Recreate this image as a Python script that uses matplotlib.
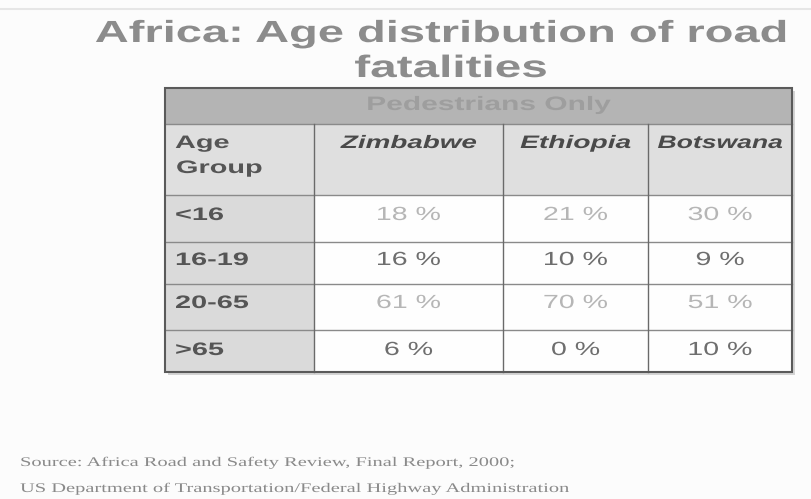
import matplotlib.pyplot as plt
from matplotlib.patches import Rectangle
from matplotlib.patheffects import AbstractPathEffect
from matplotlib.transforms import Affine2D

# Table content
countries = ["Zimbabwe", "Ethiopia", "Botswana"]
age_groups = ["<16", "16-19", "20-65", ">65"]
zimbabwe = [18, 16, 61, 6]
ethiopia = [21, 10, 70, 0]
botswana = [30, 9, 51, 10]
banner = "Pedestrians Only"
title_lines = ["Africa: Age distribution of road", "fatalities"]
source_lines = ["Source: Africa Road and Safety Review, Final Report, 2000;",
                "US Department of Transportation/Federal Highway Administration"]

# Layout in pixel units
W, H = 812, 499
col_edges = [165, 314, 503, 648, 792]
row_edges = [88, 124, 195, 242, 284, 330, 372]
value_baselines = [220, 265, 308, 355]
header_stretch = [1.54, 1.56, 1.47]


class Widen(AbstractPathEffect):
    """Stretch the glyphs of a text horizontally about their left edge or centre."""

    def __init__(self, sx, centre=False):
        super().__init__()
        self.sx = sx
        self.centre = centre

    def draw_path(self, renderer, gc, tpath, affine, rgbFace=None):
        ext = tpath.get_extents()
        cx = (ext.x0 + ext.x1) / 2 if self.centre else 0
        tr = Affine2D().translate(-cx, 0).scale(self.sx, 1).translate(cx, 0) + affine
        renderer.draw_path(gc, tpath, tr, rgbFace)


def wtext(x, y, s, size, sx=1.55, ha='left', **kw):
    return ax.text(x, y, s, ha=ha, va='baseline', fontsize=size,
                   path_effects=[Widen(sx, centre=(ha == 'center'))], **kw)


plt.rcParams['font.family'] = ['Liberation Sans', 'DejaVu Sans']

fig = plt.figure(figsize=(W / 100, H / 100), dpi=100)
ax = fig.add_axes([0, 0, 1, 1])
ax.set_xlim(0, W)
ax.set_ylim(H, 0)
ax.axis('off')
fig.patch.set_facecolor('#fcfcfc')

# faint rule at the top
ax.plot([0, W], [9, 9], color='#e6e6e6', lw=1.5)

# title
wtext(441, 42, title_lines[0], 22, 1.54, ha='center', fontweight='bold', color='#8c8c8c')
wtext(451, 77, title_lines[1], 22.3, 1.54, ha='center', fontweight='bold', color='#8c8c8c')

x0, x1 = col_edges[0], col_edges[-1]


def cell(xa, xb, ya, yb, fc):
    ax.add_patch(Rectangle((xa, ya), xb - xa, yb - ya, facecolor=fc,
                           edgecolor='none', zorder=1))


# shadow behind the table
ax.add_patch(Rectangle((x0 + 3, row_edges[0] + 3), x1 - x0, row_edges[-1] - row_edges[0],
                       facecolor='#d4d4d4', edgecolor='none', zorder=0))

# banner row
cell(x0, x1, row_edges[0], row_edges[1], '#b4b4b4')
wtext(489, 110, banner, 14, 1.54, ha='center', fontweight='bold', color='#9e9e9e', zorder=3)

# header row
cell(x0, x1, row_edges[1], row_edges[2], '#dfdfdf')
wtext(175, 148, "Age", 13, 1.6, fontweight='bold', color='#555555', zorder=3)
wtext(176, 173, "Group", 13, 1.6, fontweight='bold', color='#555555', zorder=3)
for i, name in enumerate(countries):
    cx = (col_edges[i + 1] + col_edges[i + 2]) / 2
    wtext(cx, 148, name, 13, header_stretch[i], ha='center', fontweight='bold',
          style='italic', color='#4a4a4a', zorder=3)

# data rows
series = [zimbabwe, ethiopia, botswana]
for r, grp in enumerate(age_groups):
    ya, yb = row_edges[r + 2], row_edges[r + 3]
    cell(col_edges[0], col_edges[1], ya, yb, '#dadada')
    cell(col_edges[1], x1, ya, yb, '#fefefe')
    wtext(175, value_baselines[r], grp, 13, 1.6, fontweight='bold', color='#555555', zorder=3)
    vcol = '#b6b6b6' if r % 2 == 0 else '#6e6e6e'
    for c, vals in enumerate(series):
        cx = (col_edges[c + 1] + col_edges[c + 2]) / 2
        wtext(cx, value_baselines[r], f"{vals[r]} %", 13.7, 1.5, ha='center',
              color=vcol, zorder=3)

# grid lines
for y in row_edges[1:-1]:
    ax.plot([x0, x1], [y, y], color='#8a8a8a', lw=1, zorder=2)
for x in col_edges[1:-1]:
    ax.plot([x, x], [row_edges[1], row_edges[-1]], color='#6a6a6a', lw=1, zorder=2)
ax.add_patch(Rectangle((x0, row_edges[0]), x1 - x0, row_edges[-1] - row_edges[0],
                       facecolor='none', edgecolor='#5a5a5a', lw=1.5, zorder=4))

# source note
for k, line in enumerate(source_lines):
    wtext(20, 466 + k * 26, line, 9.5, 1.55,
          family=['Liberation Serif', 'DejaVu Serif'], color='#8a8a8a')

fig.savefig('out.png', dpi=100, facecolor=fig.get_facecolor())
